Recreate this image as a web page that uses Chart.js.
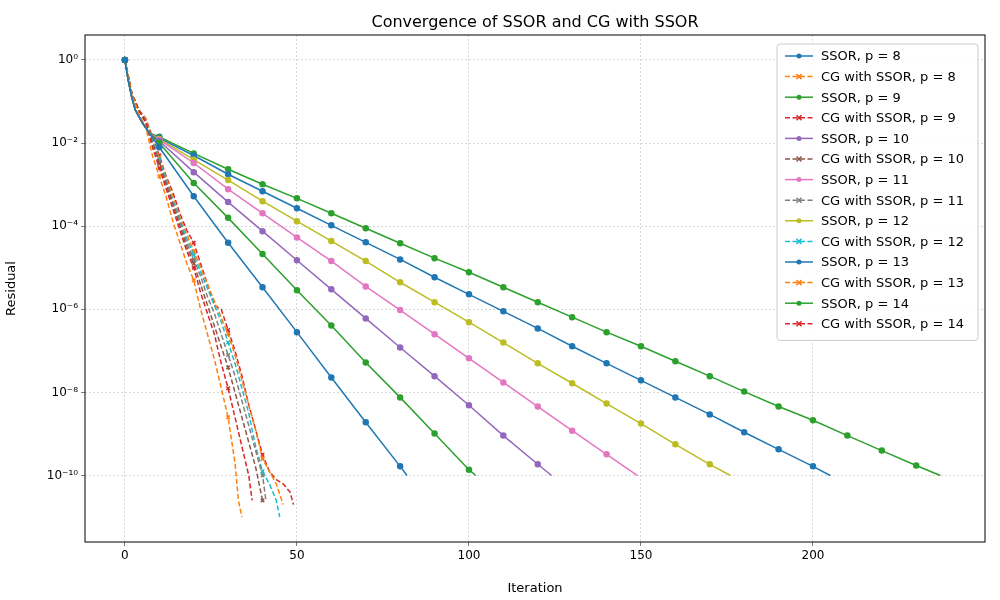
<!DOCTYPE html>
<html>
<head>
<meta charset="utf-8">
<script src="https://cdn.jsdelivr.net/npm/chart.js@4/dist/chart.umd.min.js"></script>
<style>
  body { margin: 0; background: #fff; }
  #wrap { width: 1000px; height: 600px; }
</style>
</head>
<body>
<div id="wrap"><canvas id="chart" width="1000" height="600"></canvas></div>
<script>
// Data: [iteration, log10(residual)]
const ssorStart = [[0, 0], [1, -0.5], [2, -0.9], [3, -1.2], [5, -1.5], [7, -1.75]];
const ssor8 = [[10, -2.1], [20, -3.28], [30, -4.4], [40, -5.47], [50, -6.55], [60, -7.64], [70, -8.72], [80, -9.78], [82, -10.0]];
const ssor9 = [[10, -2.0], [20, -2.96], [30, -3.8], [40, -4.67], [50, -5.54], [60, -6.39], [70, -7.28], [80, -8.12], [90, -8.99], [100, -9.86], [102, -10.0]];
const ssor10 = [[10, -1.95], [20, -2.7], [30, -3.42], [40, -4.12], [50, -4.82], [60, -5.52], [70, -6.22], [80, -6.92], [90, -7.61], [100, -8.31], [110, -9.04], [120, -9.73], [124, -10.0]];
const ssor11 = [[10, -1.92], [20, -2.48], [30, -3.11], [40, -3.69], [50, -4.27], [60, -4.84], [70, -5.45], [80, -6.02], [90, -6.6], [100, -7.18], [110, -7.76], [120, -8.34], [130, -8.92], [140, -9.49], [149, -10.0]];
const ssor12 = [[10, -1.9], [20, -2.4], [30, -2.89], [40, -3.4], [50, -3.88], [60, -4.36], [70, -4.84], [80, -5.35], [90, -5.83], [100, -6.31], [110, -6.8], [120, -7.3], [130, -7.78], [140, -8.27], [150, -8.75], [160, -9.25], [170, -9.73], [176, -10.0]];
const ssor13 = [[10, -1.88], [20, -2.3], [30, -2.75], [40, -3.16], [50, -3.57], [60, -3.98], [70, -4.39], [80, -4.8], [90, -5.23], [100, -5.64], [110, -6.05], [120, -6.46], [130, -6.89], [140, -7.3], [150, -7.71], [160, -8.12], [170, -8.53], [180, -8.96], [190, -9.37], [200, -9.78], [205, -10.0]];
const ssor14 = [[10, -1.85], [20, -2.25], [30, -2.63], [40, -2.99], [50, -3.33], [60, -3.69], [70, -4.05], [80, -4.41], [90, -4.77], [100, -5.11], [110, -5.47], [120, -5.83], [130, -6.19], [140, -6.55], [150, -6.89], [160, -7.25], [170, -7.61], [180, -7.98], [190, -8.34], [200, -8.67], [210, -9.04], [220, -9.4], [230, -9.76], [237, -10.0]];

const cg8 = [[0, 0], [2, -0.8], [4, -1.3], [6, -1.6], [8, -2.3], [10, -2.8], [12, -3.3], [14, -3.9], [16, -4.4], [18, -4.9], [20, -5.3], [22, -6.0], [24, -6.6], [26, -7.2], [28, -7.9], [30, -8.6], [32, -9.7], [33, -10.6], [34, -11.0]];
const cg9 = [[0, 0], [2, -0.8], [4, -1.2], [6, -1.5], [8, -2.1], [10, -2.6], [12, -3.1], [14, -3.6], [16, -4.1], [18, -4.6], [20, -5.0], [22, -5.6], [24, -6.1], [26, -6.6], [28, -7.3], [30, -7.9], [32, -8.6], [34, -9.3], [36, -10.0], [37, -10.6]];
const cg10 = [[0, 0], [2, -0.8], [4, -1.2], [6, -1.5], [8, -2.0], [10, -2.5], [12, -3.0], [14, -3.5], [16, -4.0], [18, -4.5], [20, -4.9], [22, -5.4], [24, -5.9], [26, -6.4], [28, -6.9], [30, -7.4], [32, -8.0], [34, -8.6], [36, -9.2], [38, -9.8], [39, -10.2], [40, -10.6]];
const cg11 = [[0, 0], [2, -0.8], [4, -1.2], [6, -1.45], [8, -2.0], [10, -2.45], [12, -2.95], [14, -3.45], [16, -3.9], [18, -4.4], [20, -4.8], [22, -5.2], [24, -5.7], [26, -6.1], [28, -6.6], [30, -7.1], [32, -7.6], [34, -8.2], [36, -8.8], [38, -9.4], [40, -10.0], [41, -10.6]];
const cg12 = [[0, 0], [2, -0.8], [4, -1.2], [6, -1.45], [8, -1.95], [10, -2.4], [12, -2.9], [14, -3.4], [16, -3.85], [18, -4.3], [20, -4.7], [22, -5.1], [24, -5.5], [26, -5.9], [28, -6.3], [30, -6.8], [32, -7.3], [34, -7.9], [36, -8.5], [38, -9.3], [40, -9.9], [42, -10.2], [44, -10.6], [45, -11.0]];
const cg13 = [[0, 0], [2, -0.8], [4, -1.2], [6, -1.4], [8, -1.9], [10, -2.35], [12, -2.85], [14, -3.3], [16, -3.8], [18, -4.2], [20, -4.6], [22, -5.0], [24, -5.4], [26, -5.8], [28, -6.2], [30, -6.6], [32, -7.1], [34, -7.7], [36, -8.3], [38, -8.9], [40, -9.6], [42, -9.9], [44, -10.2], [46, -10.7]];
const cg14 = [[0, 0], [2, -0.8], [4, -1.2], [6, -1.4], [8, -1.85], [10, -2.3], [12, -2.8], [14, -3.2], [16, -3.7], [18, -4.1], [20, -4.4], [22, -4.9], [24, -5.4], [26, -5.9], [28, -6.0], [30, -6.5], [32, -7.0], [34, -7.6], [36, -8.3], [38, -8.9], [40, -9.5], [42, -9.9], [44, -10.1], [46, -10.2], [48, -10.4], [49, -10.7]];

const pValues = [8, 9, 10, 11, 12, 13, 14];
const ssorSeries = [ssor8, ssor9, ssor10, ssor11, ssor12, ssor13, ssor14];
const cgSeries = [cg8, cg9, cg10, cg11, cg12, cg13, cg14];
const yTickExps = [0, -2, -4, -6, -8, -10];
const xTicks = [0, 50, 100, 150, 200];

const TAB10 = ['#1f77b4', '#ff7f0e', '#2ca02c', '#d62728', '#9467bd', '#8c564b', '#e377c2', '#7f7f7f', '#bcbd22', '#17becf'];
const SUP = { '0': '⁰', '1': '¹', '2': '²', '3': '³', '4': '⁴', '5': '⁵', '6': '⁶', '7': '⁷', '8': '⁸', '9': '⁹', '-': '⁻' };

function toPoints(arr) {
  return arr.map(([x, e]) => ({ x: x, y: Math.pow(10, e) }));
}

const datasets = [];
pValues.forEach((p, i) => {
  datasets.push({
    label: `SSOR, p = ${p}`,
    data: toPoints(ssorStart.concat(ssorSeries[i])),
    borderColor: TAB10[(2 * i) % 10],
    backgroundColor: TAB10[(2 * i) % 10],
    borderWidth: 1.5,
    pointStyle: 'circle',
    pointRadius: (c) => (c.raw && c.raw.x % 10 === 0 ? 2.5 : 0),
    tension: 0
  });
  datasets.push({
    label: `CG with SSOR, p = ${p}`,
    data: toPoints(cgSeries[i]),
    borderColor: TAB10[(2 * i + 1) % 10],
    backgroundColor: TAB10[(2 * i + 1) % 10],
    borderWidth: 1.5,
    borderDash: [5, 2.5],
    pointStyle: 'crossRot',
    pointBorderWidth: 1.5,
    pointRadius: (c) => (c.raw && c.raw.x % 10 === 0 ? 2.5 : 0),
    tension: 0
  });
});

// frame, title and legend drawn in matplotlib style
const decor = {
  id: 'decor',
  afterDraw(chart) {
    const { ctx, chartArea: a } = chart;
    ctx.save();
    ctx.strokeStyle = '#000';
    ctx.lineWidth = 1;
    ctx.strokeRect(a.left, a.top, a.right - a.left, a.bottom - a.top);
    ctx.fillStyle = '#000';
    ctx.font = '16px "DejaVu Sans"';
    ctx.textAlign = 'center';
    ctx.textBaseline = 'middle';
    ctx.fillText('Convergence of SSOR and CG with SSOR', (a.left + a.right) / 2, 23);

    // legend
    const lx = 777, ly = 44, lw = 201, rowH = 20.6;
    const lh = rowH * datasets.length + 8;
    ctx.fillStyle = 'rgba(255,255,255,0.85)';
    ctx.strokeStyle = '#ccc';
    ctx.beginPath();
    ctx.roundRect(lx, ly, lw, lh, 3);
    ctx.fill();
    ctx.stroke();
    ctx.font = '13px "DejaVu Sans"';
    ctx.textAlign = 'left';
    datasets.forEach((d, i) => {
      const y = ly + 12 + i * rowH;
      ctx.strokeStyle = d.borderColor;
      ctx.lineWidth = 1.5;
      ctx.setLineDash(d.borderDash || []);
      ctx.beginPath();
      ctx.moveTo(lx + 8, y);
      ctx.lineTo(lx + 36, y);
      ctx.stroke();
      ctx.setLineDash([]);
      const cx = lx + 22;
      if (d.pointStyle === 'circle') {
        ctx.fillStyle = d.borderColor;
        ctx.beginPath();
        ctx.arc(cx, y, 2.5, 0, Math.PI * 2);
        ctx.fill();
      } else {
        ctx.beginPath();
        ctx.moveTo(cx - 2.5, y - 2.5); ctx.lineTo(cx + 2.5, y + 2.5);
        ctx.moveTo(cx - 2.5, y + 2.5); ctx.lineTo(cx + 2.5, y - 2.5);
        ctx.stroke();
      }
      ctx.fillStyle = '#000';
      ctx.fillText(d.label, lx + 44, y + 1);
    });
    ctx.restore();
  }
};

new Chart(document.getElementById('chart'), {
  type: 'line',
  data: { datasets },
  plugins: [decor],
  options: {
    responsive: false,
    animation: false,
    layout: { padding: { top: 35, right: 15, left: 0, bottom: 0 } },
    plugins: { legend: { display: false }, tooltip: { enabled: false } },
    scales: {
      x: {
        type: 'linear',
        min: -11.6,
        max: 250,
        afterBuildTicks: (s) => { s.ticks = xTicks.map(v => ({ value: v })); },
        afterFit: (s) => { s.height = 58; },
        ticks: { color: '#000', font: { family: 'DejaVu Sans', size: 12 }, maxRotation: 0 },
        grid: { color: '#b0b0b0', lineWidth: 0.5, tickColor: '#000', tickLength: 4 },
        border: { display: false, dash: [2, 2] },
        title: { display: true, text: 'Iteration', color: '#000', font: { family: 'DejaVu Sans', size: 13 } }
      },
      y: {
        type: 'logarithmic',
        min: Math.pow(10, -11.6),
        max: Math.pow(10, 0.6),
        afterBuildTicks: (s) => { s.ticks = yTickExps.map(e => ({ value: Math.pow(10, e) })); },
        afterFit: (s) => { s.width = 85; },
        ticks: {
          color: '#000',
          font: { family: 'DejaVu Sans', size: 12 },
          callback: (v) => '10' + String(Math.round(Math.log10(v))).split('').map(c => SUP[c]).join('')
        },
        grid: { color: '#b0b0b0', lineWidth: 0.5, tickColor: '#000', tickLength: 4 },
        border: { display: false, dash: [2, 2] },
        title: { display: true, text: 'Residual', color: '#000', font: { family: 'DejaVu Sans', size: 13 } }
      }
    }
  }
});
</script>
</body>
</html>
